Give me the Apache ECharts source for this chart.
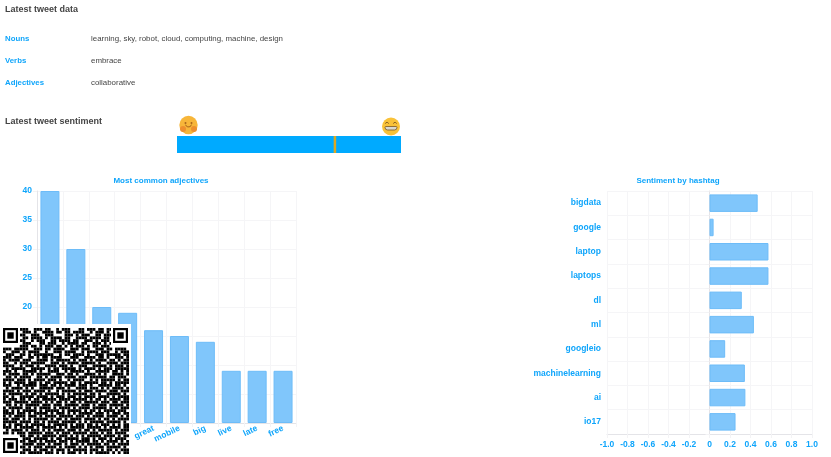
<!DOCTYPE html>
<html>
<head>
<meta charset="utf-8">
<title>Latest tweet data</title>
<script src="https://cdn.jsdelivr.net/npm/echarts@6/dist/echarts.min.js"></script>
<style>
    html, body { margin: 0; padding: 0; background: #fff; overflow: hidden; }
    #main { position: absolute; left: 0; top: 0; width: 831px; height: 457px; filter: blur(0.45px); }
    #qr { position: absolute; left: 0; top: 324px; width: 131px; height: 133px; }
</style>
</head>
<body>
<div id="main"></div>
<div id="qr"></div>
<script>
var BLUE = '#0fa5fb';
var GREY = '#444444';

var infoLabels = ['Nouns', 'Verbs', 'Adjectives'];
var infoValues = ['learning, sky, robot, cloud, computing, machine, design', 'embrace', 'collaborative'];

var sentimentValue = [0.41];

// the first four names sit behind the QR code and can't be read
var adjectives = ['', '', '', '', 'great', 'mobile', 'big', 'live', 'late', 'free'];
var adjectiveCounts = [40, 30, 20, 19, 16, 15, 14, 9, 9, 9];

var hashtags = ['bigdata', 'google', 'laptop', 'laptops', 'dl', 'ml', 'googleio', 'machinelearning', 'ai', 'io17'];
var hashtagSentiment = [0.47, 0.04, 0.575, 0.575, 0.315, 0.433, 0.153, 0.345, 0.35, 0.254];

// QR body, read roughly by eye. The three finders are painted over it below.
var qrRows = [
    '......###..###.##..#.###...##.###.##.##......',
    '.......###.#..####.##.##.####..#.###.#.......',
    '......##..###..###....###.#.###..##.###......',
    '.......##.####.#.####.##..####.####.##.......',
    '......##..#.###..##.####.##..###.#.###.......',
    '.......###...##.###..#.####.##..###.#.#......',
    '......###.##.#.###.##.#.#.###.#.##.###.......',
    '###.#####..###.##.####..###.###..###.##.####.',
    '#..###.#.####..#..###.####..#.####.###..#.###',
    '.###..##.#.#######..#.##.####.#..###.#####.##',
    '###.###..##.#.##.####...###..####.##.#..###.#',
    '#.####.###..####.#.#####.#.###.#.####.##.#.##',
    '##..#.###.#####..###.#.####.#####.#..####.###',
    '####..#.###.#..####.###.#..###..#####.#.###.#',
    '.#.#####..#####.#.##.#####.#.####.#.###.#####',
    '###.#..#####.#..####..#.#####.#..#####.##.#.#',
    '#.####.##.#.#####..###.##.#..####.#.#..####.#',
    '.##.#.####..##.#.####.####.###.######.##.###.',
    '####.###.#.####.###.#..#.####..#.#.#####.#.##',
    '#.#.####.###.#.##.#####.##.#.#####.##.#.#####',
    '###..#.#####.###.##.#.####.###.#..#####.##.#.',
    '.#.####.#.#..#####.###.#..####.###.#.#.####.#',
    '####.#.###.####.#..#.#####.#.###.####.###.###',
    '#.#####.#.##.#.#####.#.#.#####.##.#..#####.#.',
    '##.#..#####.####.#.###.###.#.####.####.#.####',
    '#.###.##.#.##.#####.####.#####.#.##.#.####.##',
    '###.#####.####.#.#.##.#.##.#.#####.###.##.###',
    '.##.#.#.#####.###.###.#####.###.#.###.#####.#',
    '#.#####.##.#.####.#.####.#.####.#####.#.#.###',
    '##.#.#.#####.#.#####.#.#####.#.##.#.####.###.',
    '####.###.#.#####.#.###.#.#.#####.###.#.###.##',
    '#.#.####.###.#.####.#####.###.#.####.####.#.#',
    '##.###.#.#.#####.#.##.#.####.####.#.##.#.####',
    '#####.####.##.#.####.#####.#.#.#####.#####.#.',
    '#.#.###.#.#####.#.#####.#.###.##.#.###.#.#.##',
    '###.#.#####.#.#####.#.#.#####.#####.#.####.##',
    '.#.####.#.###.#.#.####.###.#.##.#.#####.#.###',
    '##.#.###.#####.###.#.###.#####.###.#.##.####',
    '......##.##.#.#####.###.#.#.#.#####.####.#.##',
    '.......###.#####.#.##.#####.###.#.###.#.####.',
    '......##.###.#.####.###.#.#####.##.#.####.#.#',
    '.......####.###.#.###.#.###.#.#####.##.#.####',
    '......##.#.###.####.#.####.#.#.#.###.#####.#.',
    '.......###.#.###.#.###.#.#####.###.#.##.#.###',
    '......##.#####.###.#.#.###.#.#.#.#####.#.#.##'
];

var main = echarts.init(document.getElementById('main'), null, { renderer: 'canvas' });

function label(x, y, text, fontSize, color, weight) {
    return {
        type: 'text',
        x: x,
        y: y,
        style: {
            text: text,
            fontFamily: 'Liberation Sans',
            fontSize: fontSize,
            fontWeight: weight,
            fill: color,
            verticalAlign: 'middle'
        }
    };
}

function getPageGraphics() {
    var items = [
        label(5, 9.5, 'Latest tweet data', 9, GREY, 'bold'),
        label(5, 121.5, 'Latest tweet sentiment', 9, GREY, 'bold')
    ];
    var rowY = [38.5, 60.5, 82.5];
    infoLabels.forEach(function (name, i) {
        items.push(label(5, rowY[i], name, 7.8, BLUE, 'bold'));
        items.push(label(91, rowY[i], infoValues[i], 7.9, GREY, 'normal'));
    });
    // hugging face, left of the sentiment bar
    items.push({ type: 'circle', shape: { cx: 188.5, cy: 125, r: 9.2 }, style: { fill: '#f7b63a' } });
    items.push({ type: 'circle', shape: { cx: 185.5, cy: 123, r: 1 }, style: { fill: '#a8641c' } });
    items.push({ type: 'circle', shape: { cx: 191.5, cy: 123, r: 1 }, style: { fill: '#a8641c' } });
    items.push({ type: 'arc', shape: { cx: 188.5, cy: 124, r: 3, startAngle: 0.2, endAngle: 2.9 }, style: { stroke: '#a8641c', fill: 'none', lineWidth: 1 } });
    items.push({ type: 'circle', shape: { cx: 183, cy: 129, r: 3 }, style: { fill: '#ee8f2e' } });
    items.push({ type: 'circle', shape: { cx: 194, cy: 129, r: 3 }, style: { fill: '#ee8f2e' } });
    // grinning face, right of the sentiment bar
    items.push({ type: 'circle', shape: { cx: 391, cy: 126.5, r: 9 }, style: { fill: '#f9c239' } });
    items.push({ type: 'arc', shape: { cx: 387, cy: 124, r: 1.6, startAngle: 3.4, endAngle: 6 }, style: { stroke: '#7a5520', fill: 'none', lineWidth: 1 } });
    items.push({ type: 'arc', shape: { cx: 395, cy: 124, r: 1.6, startAngle: 3.4, endAngle: 6 }, style: { stroke: '#7a5520', fill: 'none', lineWidth: 1 } });
    items.push({ type: 'rect', shape: { x: 385, y: 126.5, width: 12, height: 3.5, r: [1, 1, 3, 3] }, style: { fill: '#d8d8d0', stroke: '#7a5520', lineWidth: 0.8 } });
    return items;
}

var gridLine = { show: true, lineStyle: { color: '#f5f5f7', width: 1 } };
var axisEdge = { show: true, lineStyle: { color: '#e4e4e8', width: 1 } };
var tickEdge = { show: true, length: 4, lineStyle: { color: '#f3f3f5' } };
var tickText = {
    color: BLUE,
    fontFamily: 'Liberation Sans',
    fontWeight: 'bold',
    fontSize: 8.5
};
var barStyle = {
    color: '#80c6fb',
    borderColor: '#6dbcf8',
    borderWidth: 1
};
var titleText = { color: BLUE, fontFamily: 'Liberation Sans', fontSize: 8, fontWeight: 'bold' };

main.setOption({
    animation: false,
    backgroundColor: '#ffffff',
    title: [
        { text: 'Most common adjectives', left: 156, top: 172, textAlign: 'center', textStyle: titleText },
        { text: 'Sentiment by hashtag', left: 673, top: 172, textAlign: 'center', textStyle: titleText }
    ],
    grid: [
        { left: 37, top: 191, width: 259, height: 232 },
        { left: 607, top: 191, width: 205, height: 243 },
        { left: 177, top: 136, width: 224, height: 17, show: true, backgroundColor: '#00aaff', borderWidth: 0 }
    ],
    xAxis: [
        {
            type: 'category',
            gridIndex: 0,
            data: adjectives,
            axisLine: axisEdge,
            axisTick: tickEdge,
            splitLine: gridLine,
            axisLabel: Object.assign({ rotate: 25, interval: 0, margin: 5 }, tickText)
        },
        {
            type: 'value',
            gridIndex: 1,
            min: -1,
            max: 1,
            interval: 0.2,
            axisLine: axisEdge,
            axisTick: tickEdge,
            splitLine: gridLine,
            axisLabel: Object.assign({ margin: 6, formatter: function (v) { return v === 0 ? '0' : v.toFixed(1); } }, tickText)
        },
        { type: 'value', gridIndex: 2, min: -1, max: 1, show: false }
    ],
    yAxis: [
        {
            type: 'value',
            gridIndex: 0,
            min: 0,
            max: 40,
            interval: 5,
            axisLine: axisEdge,
            axisTick: tickEdge,
            splitLine: gridLine,
            axisLabel: Object.assign({ margin: 5 }, tickText)
        },
        {
            type: 'category',
            gridIndex: 1,
            inverse: true,
            data: hashtags,
            axisLine: axisEdge,
            axisTick: tickEdge,
            splitLine: gridLine,
            axisLabel: Object.assign({ margin: 6, interval: 0 }, tickText)
        },
        { type: 'category', gridIndex: 2, data: ['sentiment'], show: false }
    ],
    series: [
        {
            type: 'bar',
            xAxisIndex: 0,
            yAxisIndex: 0,
            data: adjectiveCounts,
            barWidth: 19,
            itemStyle: barStyle
        },
        {
            type: 'bar',
            xAxisIndex: 1,
            yAxisIndex: 1,
            data: hashtagSentiment,
            barWidth: 17.5,
            itemStyle: barStyle
        },
        {
            type: 'scatter',
            xAxisIndex: 2,
            yAxisIndex: 2,
            data: sentimentValue,
            symbol: 'rect',
            symbolSize: [2.5, 17],
            itemStyle: { color: '#dca822', opacity: 1 }
        }
    ],
    graphic: getPageGraphics()
});

// QR code sits on top of the adjectives chart, in its own sharp layer
var qrChart = echarts.init(document.getElementById('qr'));
var MODULE = 2.8;
var QR_X = 3;
var QR_Y = 4;
var FINDER = 15;

function qrRect(x, y, w, h, fill) {
    return { type: 'rect', shape: { x: x, y: y, width: w, height: h }, style: { fill: fill } };
}

function qrFinder(x, y) {
    return [
        qrRect(x - 2, y - 2, FINDER + 4, FINDER + 4, '#ffffff'),
        qrRect(x, y, FINDER, FINDER, '#000000'),
        qrRect(x + 2.2, y + 2.2, FINDER - 4.4, FINDER - 4.4, '#ffffff'),
        qrRect(x + 4.3, y + 4.3, FINDER - 8.6, FINDER - 8.6, '#000000')
    ];
}

var qrItems = [];
qrRows.forEach(function (line, row) {
    line.split('').forEach(function (c, col) {
        if (c === '#' && col < 45) {
            qrItems.push(qrRect(QR_X + col * MODULE, QR_Y + row * MODULE, MODULE, MODULE, '#000000'));
        }
    });
});
qrItems = qrItems.concat(qrFinder(3, 4), qrFinder(113, 4), qrFinder(3, 114));

qrChart.setOption({
    animation: false,
    backgroundColor: '#ffffff',
    graphic: qrItems
});
</script>
</body>
</html>
